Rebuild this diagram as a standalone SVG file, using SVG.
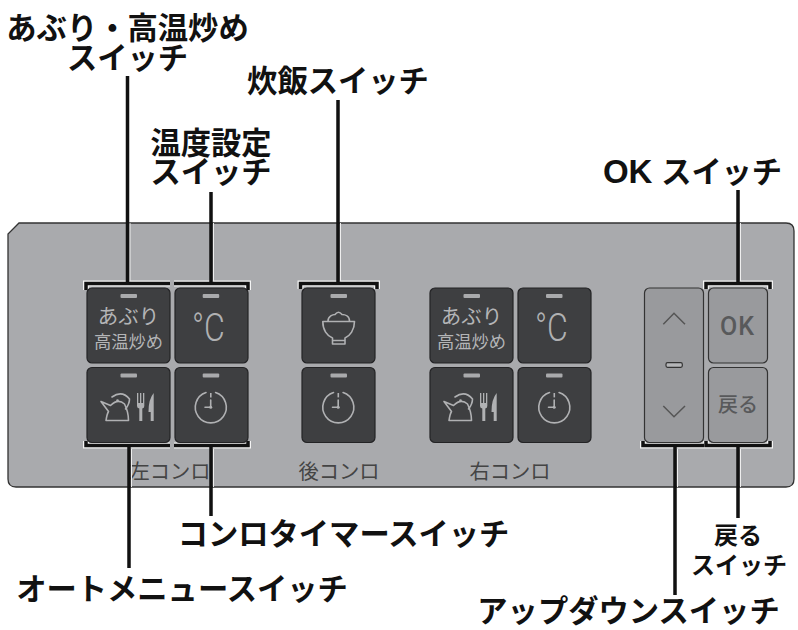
<svg xmlns="http://www.w3.org/2000/svg" xmlns:xlink="http://www.w3.org/1999/xlink" width="798" height="630" viewBox="0 0 798 630">
<style>
text{font-family:"Noto Sans CJK JP","Noto Sans",sans-serif;text-anchor:middle}
.lab{font-size:30.3px;font-weight:700;fill:#111}
.lab2{font-size:24px;font-weight:700;fill:#111}
.sec{font-size:20.3px;fill:#444;font-weight:400}
.t1{font-size:20.5px;fill:#b4b5b7;font-weight:400}
.t2{font-size:17.3px;fill:#b4b5b7;font-weight:400}
.deg{font-family:Roboto,sans-serif;font-size:39px;font-weight:300;fill:#b0b1b3;text-anchor:start}
.k{fill:#3e3f41;stroke:#232325;stroke-width:1.2}
.g{fill:#999a9d;stroke:#333;stroke-width:1.2}
.bar{fill:#a9aaac}
.ic{fill:none;stroke:#b0b1b3;stroke-width:1.6;stroke-linejoin:round;stroke-linecap:round}
.sol{fill:#b0b1b3}
.ch{fill:none;stroke:#555;stroke-width:1.5}
.halo{fill:none;stroke:#f4f4f4;stroke-width:6}
.ln{fill:none;stroke:#111;stroke-width:3.5}
</style>
<defs>
<g id="clock">
<path class="ic" d="M206 392.600A15.500 15.500 0 1 0 215.600 392.600"/>
<path class="ic" d="M210.700 400V407.300H205"/>
<path d="M210 393h1.600v4.400H210z" class="sol"/>
<circle cx="210.700" cy="407.300" r="1.500" class="sol"/>
</g>
<g id="kettle">
<path class="ic" d="M101 401.500L110.500 405.500Q118 398 124.500 404Q128.500 412 128.500 420.500H106Q107 414 108.500 411.500Z"/>
<path class="ic" d="M112 397Q122 390 129.500 399Q129.500 404 125.500 409"/>
<circle cx="117.500" cy="400.500" r="1.300" class="sol"/>
<path class="sol" d="M137 393h1.300v10h1.700v-10h1.300v10h1.700v-10h1.300v13q0 2-2 2.500v12.500h-3v-12.500q-2.300-.5-2.300-2.500z"/>
<path class="sol" d="M153.700 393v28h-3v-9h-2.200q0-13 5.200-19z"/>
</g>
</defs>
<g id="panel"><path d="M19 223H786Q794 223 794 231V479Q794 487 786 487H16Q8 487 8 479V234Z" fill="#a9aaad" stroke="#333" stroke-width="1.300"/>
<text class="sec" x="170" y="479">左コンロ</text>
<text class="sec" x="339" y="479">後コンロ</text>
<text class="sec" x="510" y="479">右コンロ</text></g>
<g id="connectors">
<path class="halo" d="M86 290V283.500H170M174 283.500H248V290M300.500 289V283.500H377V289M706 289V283.500H770V289M86 441V445.500H170M174 445.500H248V441M643 441V445.500H704M706 441V445.500H770V441"/>
<path d="M130 223V282M213.500 223V282M340.500 223V282M740.500 223V282M131.500 449V487M213.500 449V487M677.500 449V487M740.500 449V487" fill="none" stroke="#eee" stroke-width="1"/>
<path class="ln" d="M86 290V283.500H170M174 283.500H248V290M300.500 289V283.500H377V289M706 289V283.500H770V289M86 441V445.500H170M174 445.500H248V441M643 441V445.500H704M706 441V445.500H770V441"/>
<path class="ln" d="M127.500 76V283M211 192V283M338 100V283M738 190V283M129 445V568M211 445V516M675 445V595M738 445V518"/>
</g>
<g id="btn-aburi-l"><rect class="k" x="87" y="288" width="83" height="75" rx="5"/><rect class="bar" x="120.500" y="294" width="16.500" height="4" rx="1"/><text class="t1" x="128.500" y="324">あぶり</text><text class="t2" x="128.500" y="348">高温炒め</text></g>
<g id="btn-temp-l"><rect class="k" x="175" y="288" width="73" height="75" rx="5"/><rect class="bar" x="202.700" y="294" width="16.500" height="4" rx="1"/><text class="deg" transform="translate(192 341) scale(.82 1)">°C</text></g>
<g id="btn-auto-l"><rect class="k" x="87" y="367.500" width="83" height="75" rx="5"/><rect class="bar" x="120.500" y="373.500" width="16.500" height="4" rx="1"/><use xlink:href="#kettle"/></g>
<g id="btn-timer-l"><rect class="k" x="175" y="367.500" width="73" height="75" rx="5"/><rect class="bar" x="202.700" y="373.500" width="16.500" height="4" rx="1"/><use xlink:href="#clock"/></g>
<g id="btn-rice"><rect class="k" x="302" y="288" width="73" height="75" rx="5"/><rect class="bar" x="330.500" y="294" width="16.500" height="4" rx="1"/>
<path class="ic" d="M322.800 321.500H354.500C354.500 330 350 336 345 338V344H332.500V338C327 336 322.800 330 322.800 321.500ZM328 321C328 316 333 314.500 335 314.500Q338.500 310 342 314.500C345 314.500 349.500 316 349.500 321M332.500 340.500H345"/></g>
<g id="btn-timer-c"><rect class="k" x="302" y="367.500" width="73" height="75" rx="5"/><rect class="bar" x="330.500" y="373.500" width="16.500" height="4" rx="1"/><use xlink:href="#clock" x="127.500"/></g>
<g id="btn-aburi-r"><rect class="k" x="430" y="288" width="83" height="75" rx="5"/><rect class="bar" x="463.500" y="294" width="16.500" height="4" rx="1"/><text class="t1" x="471.500" y="324">あぶり</text><text class="t2" x="471.500" y="348">高温炒め</text></g>
<g id="btn-temp-r"><rect class="k" x="518" y="288" width="73" height="75" rx="5"/><rect class="bar" x="546" y="294" width="16.500" height="4" rx="1"/><text class="deg" transform="translate(535 341) scale(.82 1)">°C</text></g>
<g id="btn-auto-r"><rect class="k" x="430" y="367.500" width="83" height="75" rx="5"/><rect class="bar" x="463.500" y="373.500" width="16.500" height="4" rx="1"/><use xlink:href="#kettle" x="343"/></g>
<g id="btn-timer-r"><rect class="k" x="518" y="367.500" width="73" height="75" rx="5"/><rect class="bar" x="546" y="373.500" width="16.500" height="4" rx="1"/><use xlink:href="#clock" x="343.500"/></g>
<g id="btn-updown"><rect class="g" x="644.500" y="288" width="59" height="154.500" rx="5"/><path class="ch" d="M663.300 324.300L674 313.300L685 324.300M663.300 406L674 416.700L685 406"/><rect x="666" y="362.700" width="16.300" height="4.600" rx="1.500" fill="#b5b6b8" stroke="#333" stroke-width="1.200"/></g>
<g id="btn-ok"><rect class="g" x="708.500" y="288" width="59" height="75" rx="5"/><text x="737.500" y="335" style="font-family:Roboto,sans-serif;font-size:25px;font-weight:500;fill:#58595b;letter-spacing:1px">OK</text></g>
<g id="btn-back"><rect class="g" x="708.500" y="367.500" width="59" height="75" rx="5"/><text x="738" y="412" style="font-size:20px;fill:#58595b;font-weight:500">戻る</text></g>
<g id="labels">
<text class="lab" x="127.500" y="39">あぶり・高温炒め</text>
<text class="lab" x="127.500" y="69">スイッチ</text>
<text class="lab" x="338" y="92">炊飯スイッチ</text>
<text class="lab" x="211" y="154">温度設定</text>
<text class="lab" x="211" y="183">スイッチ</text>
<text class="lab" x="692.500" y="183" textLength="179" lengthAdjust="spacing"><tspan style="font-family:'Liberation Sans',sans-serif;font-size:33px">OK </tspan>スイッチ</text>
<text class="lab" x="343.500" y="545">コンロタイマースイッチ</text>
<text class="lab" x="182" y="600">オートメニュースイッチ</text>
<text class="lab" x="628.500" y="621.500">アップダウンスイッチ</text>
<text class="lab2" x="738" y="544">戻る</text>
<text class="lab2" x="739" y="574">スイッチ</text>
</g>
</svg>
